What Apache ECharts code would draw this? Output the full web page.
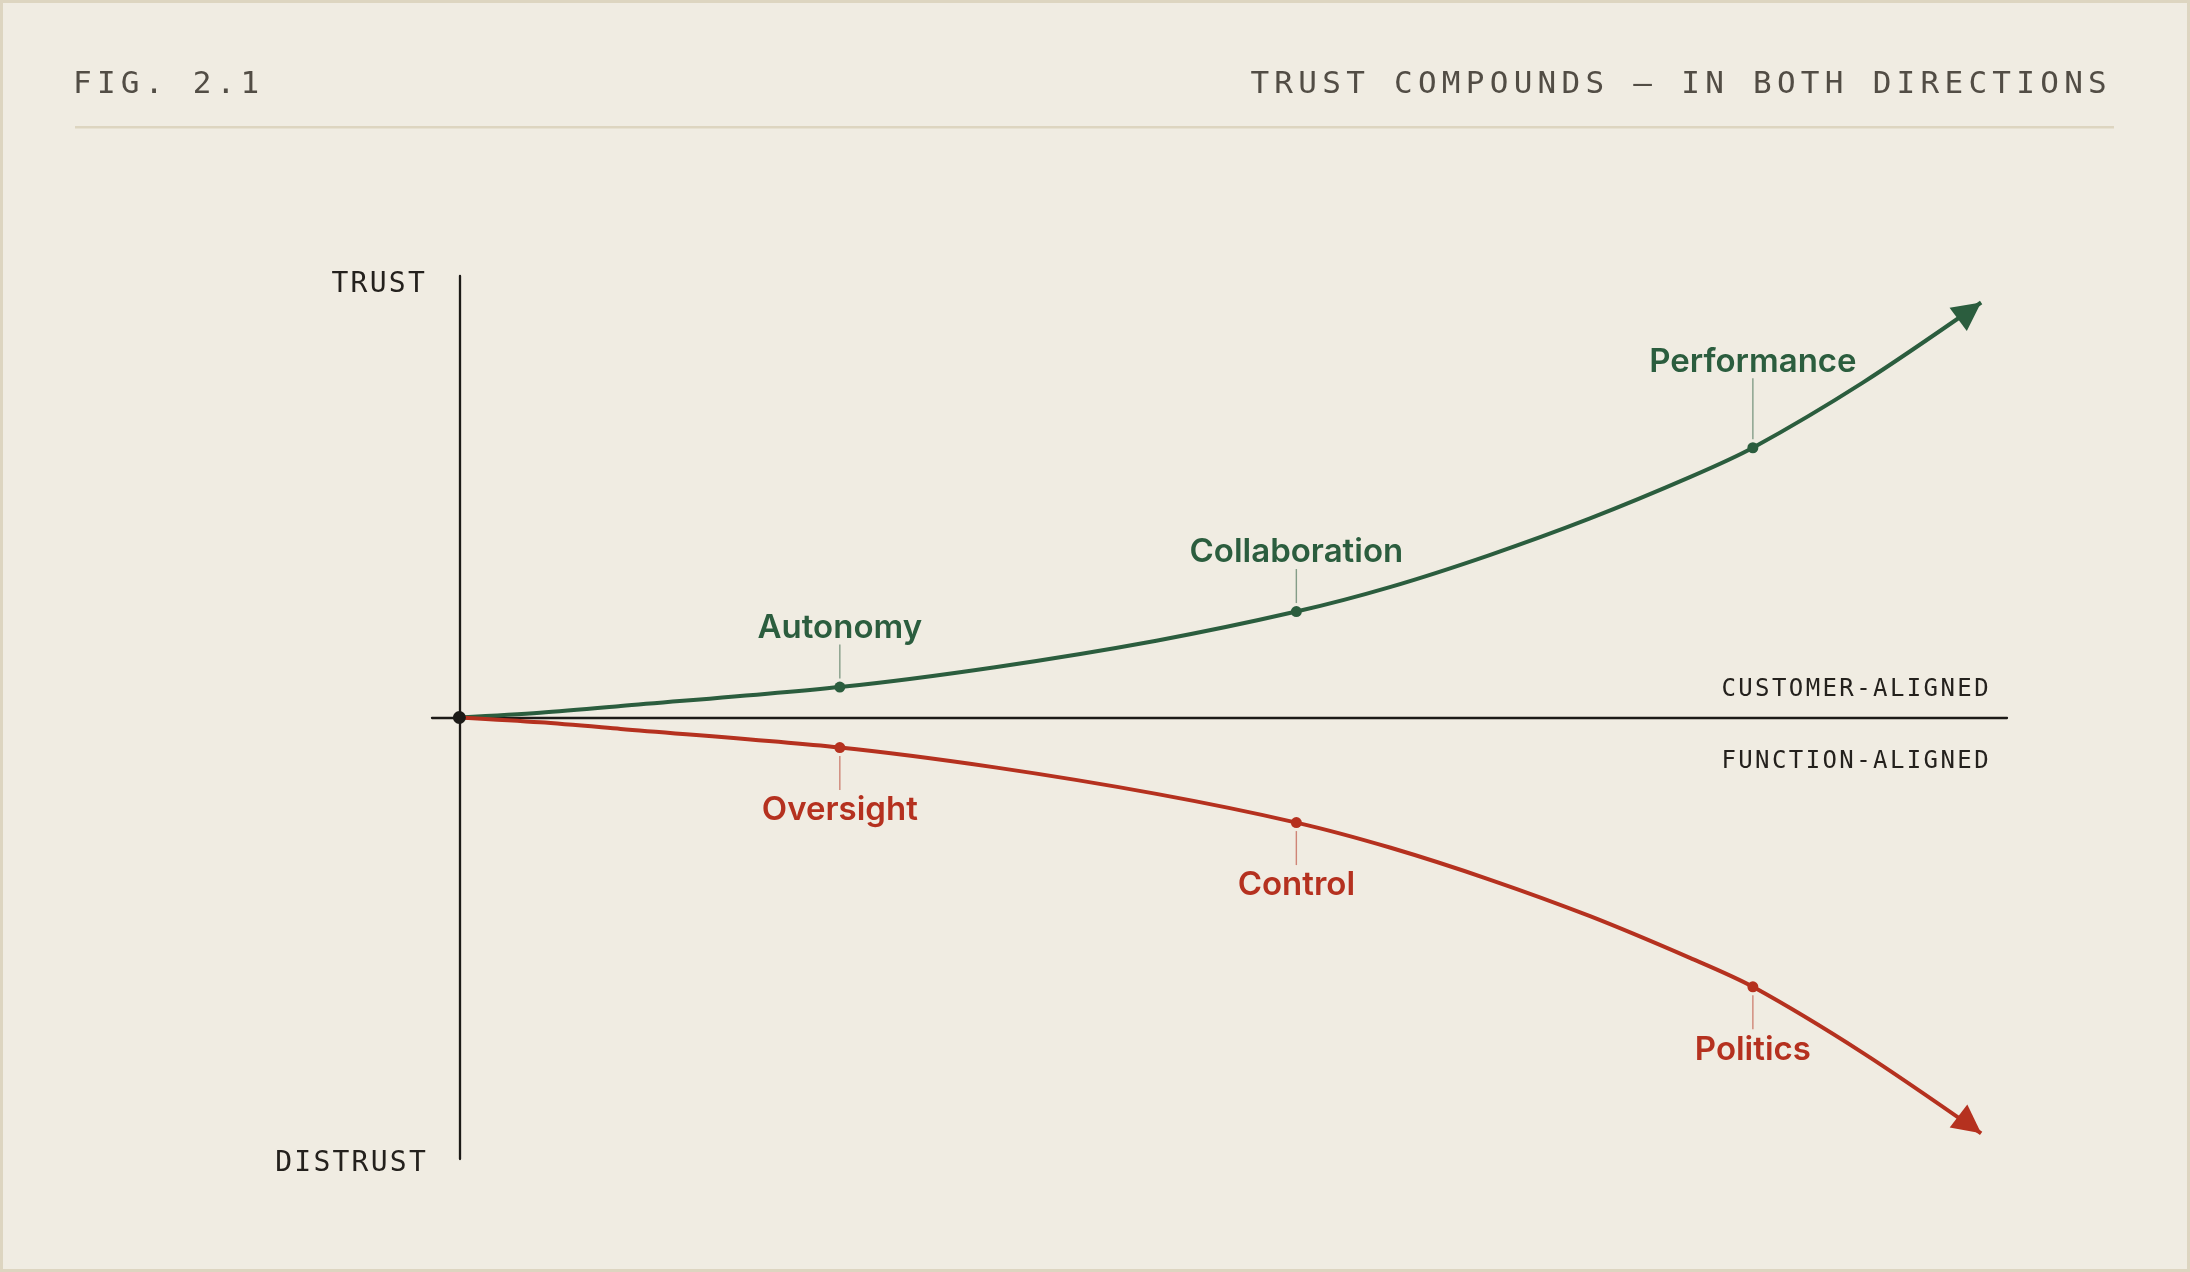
<!DOCTYPE html>
<html>
<head>
<meta charset="utf-8">
<script src="https://cdn.jsdelivr.net/npm/echarts@6/dist/echarts.min.js"></script>
<style>
html,body{margin:0;padding:0;background:#f0ece2;}
#c{width:2190px;height:1272px;}
</style>
</head>
<body>
<div id="c"></div>
<script>
// ---------- data ----------
const curveX      = [0, 5.3, 10.6, 25, 35.2, 45.8, 55, 61.2, 67.7, 74.3, 80.9, 85, 92.2, 100];
const trustY      = [0, 1.1, 2.6, 6.9, 11.4, 17.4, 24, 29.6, 36.8, 45.1, 54.5, 61.1, 75.8, 94];
const distrustY   = [0, -1.1, -2.6, -6.8, -11.3, -17.3, -23.8, -29.5, -36.7, -45.0, -54.5, -61.0, -75.9, -94.2];

const milestoneX        = [25, 55, 85];
const trustMilestoneY   = [6.9, 24, 61.1];
const distrustMilestoneY= [-6.8, -23.8, -61.0];
const trustLabels       = ['Autonomy', 'Collaboration', 'Performance'];
const distrustLabels    = ['Oversight', 'Control', 'Politics'];

const figLabel    = 'FIG. 2.1';
const titleLabel  = 'TRUST COMPOUNDS — IN BOTH DIRECTIONS';
const yTopLabel   = 'TRUST';
const yBottomLabel= 'DISTRUST';
const upperZone   = 'CUSTOMER-ALIGNED';
const lowerZone   = 'FUNCTION-ALIGNED';

// ---------- styles ----------
const GREEN = '#2b5d3e';
const RED = '#b5311f';
const INK = '#1c1a17';
const leaderExtra = { Performance: 27 };

// letter-spacing support for monospace captions (marker "lsNN" = NN/100 em)
(function () {
  const P = CanvasRenderingContext2D.prototype;
  const orig = P.fillText;
  P.fillText = function (t, x, y, w) {
    const has = 'letterSpacing' in this;
    const m = /\bls(\d+)\b/.exec(this.font);
    if (has) {
      if (m) {
        const fsm = /(\d+(?:\.\d+)?)px/.exec(this.font);
        const fs = fsm ? parseFloat(fsm[1]) : 16;
        this.letterSpacing = (fs * parseInt(m[1], 10) / 100) + 'px';
      } else {
        this.letterSpacing = '0px';
      }
    }
    if (w === undefined) orig.call(this, t, x, y); else orig.call(this, t, x, y, w);
    if (has) this.letterSpacing = '0px';
  };
})();

const chart = echarts.init(document.getElementById('c'), null, { renderer: 'canvas' });

function milestoneSeries(ys, labels, color, down) {
  return {
    type: 'custom',
    z: 5,
    data: milestoneX.map((x, i) => [x, ys[i]]),
    renderItem: function (params, api) {
      const p = api.coord([api.value(0), api.value(1)]);
      const name = labels[params.dataIndex];
      const dir = down ? 1 : -1;
      const extra = leaderExtra[name] || 0;
      const textOff = (down ? 60.5 : 61.5) + extra;
      return {
        type: 'group',
        children: [
          { type: 'line',
            shape: { x1: p[0], y1: p[1] + dir * 8.5, x2: p[0], y2: p[1] + dir * (42.5 + extra) },
            style: { stroke: color, lineWidth: 1.4, opacity: 0.55 } },
          { type: 'circle', shape: { cx: p[0], cy: p[1], r: 5.5 }, style: { fill: color } },
          { type: 'text', x: p[0], y: p[1] + dir * textOff + 2.5,
            style: { text: name, fill: color, fontFamily: 'Inter', fontWeight: 600, fontSize: 33,
                     align: 'center', verticalAlign: 'middle' } }
        ]
      };
    }
  };
}

const monoHead = "'DejaVu Sans Mono', ls17";
const monoAxis = "'DejaVu Sans Mono', ls8";
const monoZone = "'DejaVu Sans Mono', ls10";

const option = {
  backgroundColor: '#f0ece2',
  animation: false,
  grid: { left: 432, top: 276, width: 1575, height: 883, containLabel: false },
  xAxis: {
    type: 'value', min: -1.8, max: 101.7,
    axisLine: { show: true, onZero: true, lineStyle: { color: INK, width: 2.3 } },
    axisTick: { show: false }, axisLabel: { show: false }, splitLine: { show: false }
  },
  yAxis: {
    type: 'value', min: -100, max: 100,
    axisLine: { show: true, onZero: true, lineStyle: { color: INK, width: 2.3 } },
    axisTick: { show: false }, axisLabel: { show: false }, splitLine: { show: false }
  },
  graphic: [
    { type: 'rect', shape: { x: 1.5, y: 1.5, width: 2187, height: 1269 },
      style: { fill: 'none', stroke: '#ddd5c0', lineWidth: 3 }, silent: true },
    { type: 'rect', shape: { x: 75, y: 126, width: 2039, height: 2.6 },
      style: { fill: '#ddd5c0' }, silent: true },
    { type: 'text', x: 73, y: 85,
      style: { text: figLabel, fill: '#524d45', fontFamily: monoHead, fontSize: 31,
               align: 'left', verticalAlign: 'middle' } },
    { type: 'text', x: 2112, y: 85,
      style: { text: titleLabel, fill: '#524d45', fontFamily: monoHead, fontSize: 31,
               align: 'right', verticalAlign: 'middle' } },
    { type: 'text', x: 427, y: 285,
      style: { text: yTopLabel, fill: '#24211d', fontFamily: monoAxis, fontSize: 28,
               align: 'right', verticalAlign: 'middle' } },
    { type: 'text', x: 428, y: 1163.5,
      style: { text: yBottomLabel, fill: '#24211d', fontFamily: monoAxis, fontSize: 28,
               align: 'right', verticalAlign: 'middle' } },
    { type: 'text', x: 1991, y: 690,
      style: { text: upperZone, fill: '#24211d', fontFamily: monoZone, fontSize: 24,
               align: 'right', verticalAlign: 'middle' } },
    { type: 'text', x: 1991, y: 761.5,
      style: { text: lowerZone, fill: '#24211d', fontFamily: monoZone, fontSize: 24,
               align: 'right', verticalAlign: 'middle' } }
  ],
  series: [
    { type: 'line', z: 3, data: curveX.map((x, i) => [x, trustY[i]]),
      smooth: 0.3, showSymbol: false, symbol: 'none',
      lineStyle: { color: GREEN, width: 4 } },
    { type: 'line', z: 3, data: curveX.map((x, i) => [x, distrustY[i]]),
      smooth: 0.3, showSymbol: false, symbol: 'none',
      lineStyle: { color: RED, width: 4 } },
    { type: 'scatter', z: 4, data: [[curveX[curveX.length - 1], trustY[trustY.length - 1]]],
      symbol: 'triangle', symbolSize: [29, 28.5], symbolRotate: -53.5, symbolOffset: [-11.5, 8.5],
      itemStyle: { color: GREEN, opacity: 1 } },
    { type: 'scatter', z: 4, data: [[curveX[curveX.length - 1], distrustY[distrustY.length - 1]]],
      symbol: 'triangle', symbolSize: [29, 28.5], symbolRotate: -127.4, symbolOffset: [-11.3, -8.7],
      itemStyle: { color: RED, opacity: 1 } },
    milestoneSeries(trustMilestoneY, trustLabels, GREEN, false),
    milestoneSeries(distrustMilestoneY, distrustLabels, RED, true),
    { type: 'scatter', z: 6, data: [[curveX[0], trustY[0]]], symbol: 'circle', symbolSize: 13,
      itemStyle: { color: INK, opacity: 1 } }
  ]
};
chart.setOption(option);
</script>
</body>
</html>
